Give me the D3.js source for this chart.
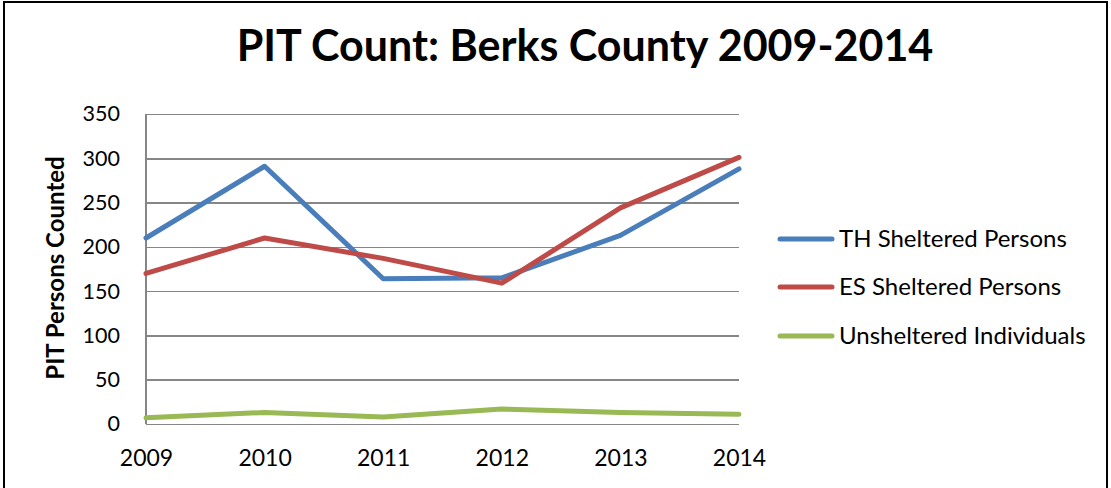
<!DOCTYPE html>
<head>
    <script src="https://cdn.jsdelivr.net/npm/d3@7"></script>
    <style>
        body { margin: 0; background: #fff; }
        text { font-family: Lato, "Open Sans", sans-serif; fill: #000; }
        .grid line { stroke: #868686; stroke-width: 1.5; shape-rendering: crispEdges; }
        .grid path { display: none; }
        .axis path, .axis line { display: none; }
        .axis text { font-size: 23px; }
        .series { fill: none; stroke-width: 5; stroke-linejoin: round; stroke-linecap: round; }
    </style>
</head>
<body>
<div id="chart"></div>
<script type="text/javascript">
    // values
    var years = [2009, 2010, 2011, 2012, 2013, 2014];
    var thSheltered = [210, 291, 164, 165, 213, 288];
    var esSheltered = [170, 210, 187, 159, 244, 301];
    var unsheltered = [7, 13, 8, 17, 13, 11];
    var seriesNames = ["TH Sheltered Persons", "ES Sheltered Persons", "Unsheltered Individuals"];
    var seriesColors = ["#4A7EBB", "#BE4B48", "#98B954"];
    var yTicks = [0, 50, 100, 150, 200, 250, 300, 350];

    var W = 1111, H = 488;
    var margin = {top: 114, left: 146, right: 372, bottom: 64};
    var width = W - margin.left - margin.right,
        height = H - margin.top - margin.bottom;

    var svg = d3.select("#chart").append("svg")
        .attr("width", W)
        .attr("height", H);

    // outer frame
    svg.append("rect")
        .attr("x", 4).attr("y", 2)
        .attr("width", W - 8).attr("height", H + 10)
        .attr("fill", "none").attr("stroke", "#000").attr("stroke-width", 2);

    svg.append("text")
        .attr("x", 585).attr("y", 61)
        .attr("text-anchor", "middle")
        .attr("font-size", "43px")
        .attr("font-weight", "bold")
        .text("PIT Count: Berks County 2009-2014");

    var g = svg.append("g").attr("transform", "translate(" + margin.left + "," + margin.top + ")");

    var x = d3.scalePoint().domain(years).range([0, width]);
    var y = d3.scaleLinear().domain([0, 350]).range([height, 0]);

    g.append("g")
        .attr("class", "grid")
        .call(d3.axisLeft(y).tickValues(yTicks).tickSize(-width).tickFormat(""));

    g.append("line")
        .attr("x1", 0).attr("x2", 0).attr("y1", 0).attr("y2", height)
        .attr("stroke", "#868686").attr("stroke-width", 1.5)
        .attr("shape-rendering", "crispEdges");

    g.append("g")
        .attr("class", "axis")
        .call(d3.axisLeft(y).tickValues(yTicks).tickSize(0).tickPadding(26))
        .selectAll("text").style("font-size", "21.5px");

    g.append("g")
        .attr("class", "axis")
        .attr("transform", "translate(0," + height + ")")
        .call(d3.axisBottom(x).tickSize(0).tickPadding(26));

    svg.append("text")
        .attr("transform", "translate(64," + 268 + ") rotate(-90)")
        .attr("text-anchor", "middle")
        .attr("font-size", "24px")
        .attr("font-weight", "bold")
        .text("PIT Persons Counted");

    var data = [thSheltered, esSheltered, unsheltered];
    var line = d3.line()
        .x(function (d, i) { return x(years[i]); })
        .y(function (d) { return y(d); });

    g.selectAll(".series").data(data).enter()
        .append("path")
        .attr("class", "series")
        .attr("stroke", function (d, i) { return seriesColors[i]; })
        .attr("d", line);

    var legend = svg.append("g").attr("transform", "translate(778,239)");
    var item = legend.selectAll("g").data(seriesNames).enter()
        .append("g")
        .attr("transform", function (d, i) { return "translate(0," + [0, 48, 97][i] + ")"; });
    item.append("line")
        .attr("x1", 2).attr("x2", 54)
        .attr("stroke", function (d, i) { return seriesColors[i]; })
        .attr("stroke-width", 5).attr("stroke-linecap", "round");
    item.append("text")
        .attr("x", 61).attr("y", 8)
        .attr("font-size", "24px")
        .text(function (d) { return d; });
</script>
</body>
</html>
